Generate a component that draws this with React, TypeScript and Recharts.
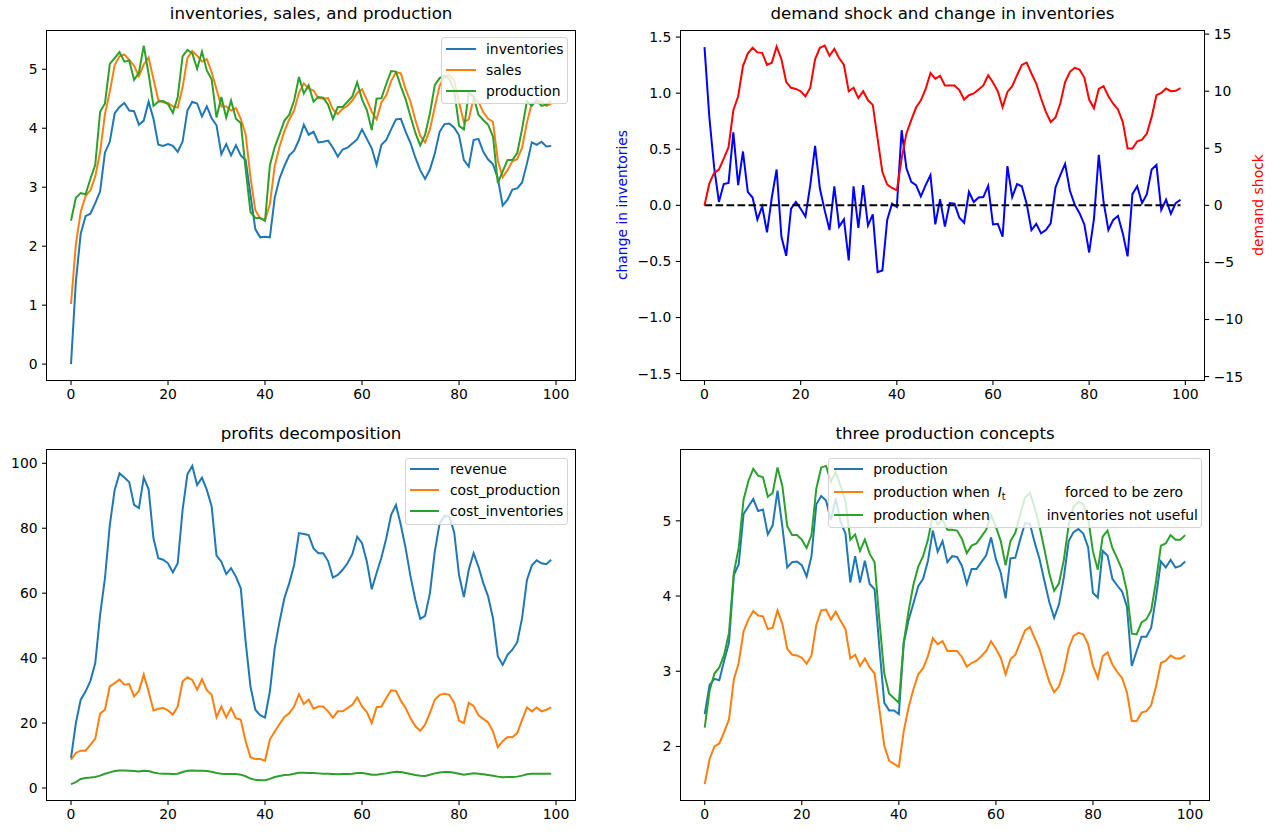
import React from "react";
import { LineChart, Line, XAxis, YAxis, ReferenceLine } from "recharts";

const FONT = "'DejaVu Sans', sans-serif";
const C0 = "#1f77b4";
const C1 = "#ff7f0e";
const C2 = "#2ca02c";

// time index
const steps = [
  0, 1, 2, 3, 4, 5, 6, 7, 8, 9, 10, 11, 12, 13, 14, 15, 16, 17, 18, 19,
  20, 21, 22, 23, 24, 25, 26, 27, 28, 29, 30, 31, 32, 33, 34, 35, 36, 37, 38, 39,
  40, 41, 42, 43, 44, 45, 46, 47, 48, 49, 50, 51, 52, 53, 54, 55, 56, 57, 58, 59,
  60, 61, 62, 63, 64, 65, 66, 67, 68, 69, 70, 71, 72, 73, 74, 75, 76, 77, 78, 79,
  80, 81, 82, 83, 84, 85, 86, 87, 88, 89, 90, 91, 92, 93, 94, 95, 96, 97, 98, 99,
];

const inventories = [
  0.0, 1.4, 2.21, 2.51, 2.55, 2.73, 2.93, 3.59, 3.77, 4.25,
  4.36, 4.43, 4.3, 4.29, 4.06, 4.13, 4.45, 4.16, 3.72, 3.7,
  3.73, 3.7, 3.6, 3.77, 4.3, 4.45, 4.42, 4.2, 4.37, 4.17,
  4.05, 3.56, 3.73, 3.54, 3.71, 3.54, 3.46, 2.87, 2.29, 2.15,
  2.16, 2.15, 2.82, 3.15, 3.36, 3.54, 3.62, 3.8, 4.06, 3.89,
  3.94, 3.76, 3.77, 3.79, 3.67, 3.52, 3.64, 3.67, 3.74, 3.81,
  3.98, 3.82, 3.66, 3.38, 3.72, 3.8, 3.98, 4.15, 4.16, 3.94,
  3.75, 3.5, 3.29, 3.14, 3.3, 3.57, 3.94, 4.07, 4.08, 4.01,
  3.88, 3.46, 3.35, 3.8, 3.82, 3.6, 3.47, 3.39, 3.15, 2.69,
  2.79, 2.96, 2.98, 3.08, 3.4, 3.76, 3.72, 3.77, 3.69, 3.7,
];

const sales = [
  1.02, 2.03, 2.58, 2.85, 2.95, 3.18, 3.6, 4.24, 4.62, 5.07,
  5.22, 5.25, 5.16, 5.06, 4.88, 5.08, 5.2, 4.83, 4.48, 4.44,
  4.43, 4.37, 4.35, 4.69, 5.19, 5.31, 5.23, 5.13, 5.17, 4.95,
  4.66, 4.37, 4.37, 4.3, 4.34, 4.16, 3.9, 3.17, 2.61, 2.47,
  2.44, 2.71, 3.36, 3.69, 3.95, 4.15, 4.3, 4.6, 4.76, 4.67,
  4.64, 4.51, 4.5, 4.51, 4.32, 4.24, 4.33, 4.38, 4.47, 4.6,
  4.66, 4.48, 4.28, 4.15, 4.44, 4.56, 4.8, 4.95, 4.93, 4.66,
  4.45, 4.14, 3.87, 3.76, 3.98, 4.36, 4.72, 4.88, 4.9, 4.82,
  4.44, 4.1, 4.15, 4.51, 4.45, 4.27, 4.16, 4.11, 3.45, 3.17,
  3.29, 3.44, 3.48, 3.67, 4.1, 4.42, 4.43, 4.46, 4.38, 4.41,
];

const production = [
  2.43, 2.82, 2.9, 2.88, 3.14, 3.38, 4.28, 4.42, 5.09, 5.19,
  5.29, 5.13, 5.15, 4.82, 4.94, 5.4, 4.92, 4.38, 4.45, 4.46,
  4.41, 4.26, 4.53, 5.22, 5.33, 5.27, 5.01, 5.3, 4.98, 4.83,
  4.18, 4.53, 4.18, 4.47, 4.16, 4.09, 3.31, 2.58, 2.48, 2.48,
  2.43, 3.37, 3.68, 3.9, 4.13, 4.23, 4.47, 4.87, 4.59, 4.73,
  4.45, 4.53, 4.52, 4.4, 4.16, 4.36, 4.36, 4.45, 4.54, 4.78,
  4.49, 4.31, 3.97, 4.5, 4.51, 4.75, 4.97, 4.96, 4.71, 4.49,
  4.2, 3.92, 3.71, 3.89, 4.25, 4.73, 4.85, 4.89, 4.83, 4.65,
  4.04, 3.98, 4.6, 4.54, 4.23, 4.14, 4.06, 3.86, 3.07, 3.27,
  3.46, 3.46, 3.58, 3.99, 4.46, 4.38, 4.48, 4.38, 4.4, 4.46,
];

const inventoryChange = [
  1.41, 0.79, 0.34, 0.03, 0.19, 0.2, 0.65, 0.18, 0.48, 0.12,
  0.07, -0.125, -0.01, -0.24, 0.07, 0.32, -0.28, -0.45, -0.03, 0.03,
  -0.03, -0.1, 0.18, 0.53, 0.15, -0.045, -0.22, 0.17, -0.19, -0.125,
  -0.49, 0.17, -0.2, 0.18, -0.18, -0.08, -0.595, -0.58, -0.13, 0.015,
  -0.015, 0.67, 0.33, 0.21, 0.18, 0.08, 0.18, 0.27, -0.17, 0.054,
  -0.19, 0.02, 0.015, -0.11, -0.155, 0.12, 0.03, 0.07, 0.074, 0.175,
  -0.17, -0.165, -0.28, 0.35, 0.074, 0.19, 0.17, 0.015, -0.22, -0.165,
  -0.25, -0.22, -0.16, 0.16, 0.27, 0.37, 0.13, 0.006, -0.07, -0.17,
  -0.42, -0.12, 0.45, 0.03, -0.22, -0.13, -0.095, -0.25, -0.455, 0.1,
  0.17, 0.02, 0.1, 0.32, 0.36, -0.04, 0.05, -0.075, 0.02, 0.05,
];

const demandShock = [
  0, 1.9, 2.84, 3.13, 4.1, 5.1, 8.33, 9.56, 12.2, 13.3,
  13.8, 13.4, 13.36, 12.3, 12.5, 13.9, 12.8, 10.8, 10.3, 10.2,
  10.0, 9.56, 10.3, 12.8, 13.8, 14.0, 13.1, 13.7, 12.9, 12.3,
  10.0, 10.3, 9.4, 10.0, 9.2, 8.8, 5.85, 2.92, 1.81, 1.52,
  1.32, 4.1, 6.3, 7.46, 8.57, 9.2, 10.2, 11.6, 11.1, 11.35,
  10.5, 10.5, 10.5, 10.1, 9.27, 9.65, 9.8, 10.15, 10.5, 11.4,
  10.76, 10.0, 8.6, 9.94, 10.44, 11.4, 12.3, 12.5, 11.55, 10.67,
  9.36, 8.19, 7.3, 7.7, 8.92, 10.8, 11.7, 12.05, 11.9, 11.2,
  9.27, 8.5, 10.2, 10.44, 9.56, 8.9, 8.4, 7.3, 4.97, 4.97,
  5.6, 5.76, 6.29, 7.75, 9.65, 9.85, 10.23, 10.0, 10.03, 10.26,
];

const revenue = [
  9.2, 20.0, 27.2, 29.7, 33.0, 38.5, 53.3, 64.6, 81.0, 91.8,
  96.9, 95.6, 94.2, 87.2, 86.2, 95.6, 92.0, 76.9, 70.8, 70.3,
  69.2, 66.4, 69.2, 85.6, 96.6, 99.2, 93.3, 95.6, 91.8, 86.7,
  71.6, 69.7, 65.9, 67.7, 65.1, 61.5, 45.1, 31.3, 24.1, 22.4,
  21.7, 29.7, 43.1, 51.3, 58.5, 63.1, 68.7, 78.5, 78.2, 77.9,
  73.8, 72.3, 72.3, 69.9, 64.8, 65.6, 67.2, 69.2, 72.0, 77.4,
  75.4, 69.7, 61.2, 66.2, 71.0, 76.9, 84.1, 87.2, 81.0, 73.8,
  65.1, 57.9, 52.1, 53.0, 60.0, 72.8, 81.5, 83.8, 83.6, 78.8,
  65.6, 58.8, 67.2, 72.3, 68.2, 63.1, 59.0, 52.3, 40.5, 37.9,
  41.0, 42.6, 44.9, 52.3, 64.1, 68.5, 70.1, 69.2, 68.9, 70.3,
];

const costProduction = [
  8.7, 10.8, 11.5, 11.5, 13.3, 15.2, 22.9, 24.1, 31.3, 32.3,
  33.4, 31.8, 32.0, 28.2, 29.9, 34.9, 29.7, 23.9, 24.4, 24.6,
  23.9, 22.6, 25.1, 32.8, 34.1, 33.3, 30.3, 33.5, 30.1, 28.7,
  21.8, 25.1, 21.7, 24.6, 21.5, 21.0, 14.4, 9.5, 8.9, 8.9,
  8.4, 14.9, 17.4, 19.7, 21.9, 23.0, 25.1, 28.9, 25.9, 27.2,
  24.4, 25.1, 25.1, 23.6, 21.7, 23.6, 23.6, 24.6, 25.6, 27.9,
  25.1, 23.4, 20.0, 24.9, 25.1, 27.7, 30.1, 29.9, 26.9, 24.6,
  21.5, 19.0, 17.6, 19.5, 23.1, 27.2, 28.7, 29.0, 28.7, 26.2,
  20.7, 20.0, 26.2, 25.3, 22.4, 21.3, 20.2, 17.4, 12.6, 14.4,
  15.7, 15.6, 16.9, 21.0, 24.8, 23.6, 24.8, 23.6, 24.1, 24.8,
];

const costInventories = [
  1.2, 1.8, 2.8, 3.1, 3.2, 3.4, 3.8, 4.4, 4.8, 5.2,
  5.4, 5.4, 5.3, 5.2, 5.1, 5.3, 5.2, 4.8, 4.5, 4.4,
  4.4, 4.3, 4.4, 4.9, 5.3, 5.4, 5.3, 5.3, 5.2, 5.0,
  4.6, 4.4, 4.3, 4.3, 4.3, 4.1, 3.6, 2.9, 2.5, 2.4,
  2.4, 2.8, 3.4, 3.7, 4.0, 4.1, 4.4, 4.7, 4.7, 4.6,
  4.6, 4.5, 4.4, 4.4, 4.3, 4.2, 4.3, 4.3, 4.4, 4.6,
  4.6, 4.4, 4.1, 4.1, 4.3, 4.5, 4.8, 5.0, 4.9, 4.6,
  4.3, 4.0, 3.8, 3.7, 4.1, 4.5, 4.8, 4.9, 4.9, 4.7,
  4.4, 4.1, 4.3, 4.5, 4.4, 4.2, 4.0, 3.8, 3.5, 3.3,
  3.4, 3.4, 3.5, 3.8, 4.2, 4.4, 4.4, 4.4, 4.4, 4.4,
];

const productionZeroInv = [
  1.5, 1.83, 2.0, 2.04, 2.19, 2.36, 2.89, 3.11, 3.53, 3.69,
  3.8, 3.74, 3.73, 3.56, 3.58, 3.81, 3.63, 3.3, 3.22, 3.21,
  3.18, 3.1, 3.21, 3.62, 3.81, 3.82, 3.69, 3.79, 3.67, 3.56,
  3.17, 3.22, 3.07, 3.17, 3.05, 2.97, 2.49, 2.01, 1.81, 1.77,
  1.73, 2.2, 2.52, 2.76, 2.96, 3.04, 3.2, 3.44, 3.36, 3.4,
  3.27, 3.27, 3.27, 3.19, 3.06, 3.11, 3.14, 3.2, 3.27, 3.4,
  3.3, 3.18, 2.96, 3.16, 3.22, 3.38, 3.54, 3.59, 3.44, 3.29,
  3.07, 2.86, 2.72, 2.8, 3.0, 3.31, 3.47, 3.51, 3.49, 3.36,
  3.07, 2.91, 3.2, 3.25, 3.09, 2.99, 2.91, 2.72, 2.34, 2.34,
  2.45, 2.47, 2.55, 2.8, 3.11, 3.14, 3.21, 3.17, 3.17, 3.21,
];

const productionNoInvUse = [
  2.25, 2.74, 2.97, 3.05, 3.22, 3.51, 4.31, 4.64, 5.28, 5.53,
  5.69, 5.6, 5.58, 5.32, 5.37, 5.71, 5.46, 4.93, 4.81, 4.81,
  4.75, 4.64, 4.81, 5.43, 5.71, 5.73, 5.52, 5.65, 5.46, 5.26,
  4.75, 4.82, 4.6, 4.75, 4.56, 4.45, 3.67, 2.97, 2.7, 2.64,
  2.58, 3.38, 3.8, 4.15, 4.39, 4.53, 4.75, 5.08, 4.95, 5.02,
  4.88, 4.88, 4.87, 4.76, 4.57, 4.67, 4.7, 4.79, 4.88, 5.08,
  4.92, 4.73, 4.41, 4.73, 4.84, 5.08, 5.31, 5.37, 5.17, 4.92,
  4.62, 4.3, 4.07, 4.17, 4.48, 4.95, 5.19, 5.25, 5.22, 5.04,
  4.59, 4.35, 4.79, 4.87, 4.64, 4.5, 4.35, 4.06, 3.5, 3.49,
  3.65, 3.69, 3.81, 4.2, 4.67, 4.7, 4.81, 4.75, 4.75, 4.81,
];

const xTicks = [0, 20, 40, 60, 80, 100];
const ticksTopLeft = [0, 1, 2, 3, 4, 5];
const ticksChange = [-1.5, -1.0, -0.5, 0, 0.5, 1.0, 1.5];
const ticksShock = [-15, -10, -5, 0, 5, 10, 15];
const ticksProfits = [0, 20, 40, 60, 80, 100];
const ticksConcepts = [2, 3, 4, 5];

const rows = steps.map((t, i) => ({
  t,
  inventories: inventories[i],
  sales: sales[i],
  production: production[i],
  change: inventoryChange[i],
  shock: demandShock[i],
  revenue: revenue[i],
  cost_production: costProduction[i],
  cost_inventories: costInventories[i],
  zeroInv: productionZeroInv[i],
  noInvUse: productionNoInvUse[i],
}));

const X_DOMAIN: [number, number] = [-4.95, 103.95];
const FS = 13.9;
const tickStyle = { fill: "#000", fontSize: FS, fontFamily: FONT };
const LW = 2;
const TICK = 4.9;

const minus = (s: string) => s.replace("-", "\u2212");
const fmt0 = (v: number) => minus(String(v));
const fmt1 = (v: number) => minus(v.toFixed(1));

function xAxis() {
  return (
    <XAxis
      xAxisId="b"
      dataKey="t"
      type="number"
      domain={X_DOMAIN}
      ticks={xTicks}
      interval={0}
      allowDataOverflow
      height={30}
      tickSize={TICK}
      tickMargin={4.5}
      axisLine={false}
      tickLine={{ stroke: "#000", strokeWidth: 1.1 }}
      tick={tickStyle}
    />
  );
}

function leftAxis(
  domain: [number, number],
  ticks: number[],
  width: number,
  fmt: (v: number) => string
) {
  return (
    <YAxis
      yAxisId="l"
      type="number"
      domain={domain}
      ticks={ticks}
      interval={0}
      allowDataOverflow
      width={width}
      tickSize={TICK}
      tickMargin={4.5}
      axisLine={false}
      tickLine={{ stroke: "#000", strokeWidth: 1.1 }}
      tick={tickStyle}
      tickFormatter={fmt}
    />
  );
}

function series(key: string, color: string, yId: string) {
  return (
    <Line
      key={key}
      xAxisId="b"
      yAxisId={yId}
      dataKey={key}
      type="linear"
      stroke={color}
      strokeWidth={LW}
      dot={false}
      activeDot={false}
      isAnimationActive={false}
    />
  );
}

function Frame(props: { left: number; top: number; width: number; height: number }) {
  return (
    <div
      style={{
        position: "absolute",
        left: props.left - 0.55,
        top: props.top - 0.55,
        width: props.width + 1.1,
        height: props.height + 1.1,
        boxSizing: "border-box",
        border: "1.1px solid #000",
        pointerEvents: "none",
      }}
    />
  );
}

type LegendRow = { color: string; y: number; label: React.ReactNode };

function LegendBox(props: {
  left: number;
  top: number;
  width: number;
  height: number;
  sx: number;
  sw: number;
  tx: number;
  rows: LegendRow[];
}) {
  const { left, top, width, height, sx, sw, tx, rows: items } = props;
  return (
    <div
      style={{
        position: "absolute",
        left,
        top,
        width,
        height,
        boxSizing: "border-box",
        background: "rgba(255,255,255,0.8)",
        border: "1px solid #d3d3d3",
        borderRadius: 3,
        fontFamily: FONT,
        fontSize: FS,
        color: "#000",
      }}
    >
      {items.map((r, i) => (
        <React.Fragment key={i}>
          <div
            style={{
              position: "absolute",
              left: sx,
              top: r.y - LW / 2 - 1,
              width: sw,
              height: LW,
              background: r.color,
            }}
          />
          <div
            style={{
              position: "absolute",
              left: tx,
              top: r.y - 10,
              height: 18,
              lineHeight: "18px",
              whiteSpace: "nowrap",
            }}
          >
            {r.label}
          </div>
        </React.Fragment>
      ))}
    </div>
  );
}

const TFS = 16.67;

function Title(props: { cx: number; baseline: number; text: string }) {
  return (
    <div
      style={{
        position: "absolute",
        left: props.cx - 300,
        width: 600,
        top: props.baseline - 0.846 * TFS,
        lineHeight: TFS + "px",
        fontSize: TFS,
        fontFamily: FONT,
        textAlign: "center",
        color: "#000",
        whiteSpace: "nowrap",
      }}
    >
      {props.text}
    </div>
  );
}

function VLabel(props: { cx: number; cy: number; text: string; color: string }) {
  return (
    <div
      style={{
        position: "absolute",
        left: props.cx - 150,
        top: props.cy - 9,
        width: 300,
        height: 18,
        lineHeight: "18px",
        textAlign: "center",
        fontSize: FS,
        fontFamily: FONT,
        color: props.color,
        transform: "rotate(-90deg)",
        whiteSpace: "nowrap",
      }}
    >
      {props.text}
    </div>
  );
}

const TL_Y: [number, number] = [-0.269, 5.654];
const TR_L: [number, number] = [-1.557, 1.557];
const TR_R: [number, number] = [-15.3, 15.3];
const BL_Y: [number, number] = [-3.7, 104.1];
const BR_Y: [number, number] = [1.2885, 5.9415];

export default function App() {
  const first = steps[0];
  const last = steps[steps.length - 1];
  return (
    <div
      style={{
        position: "absolute",
        left: 0,
        top: 0,
        width: 1277,
        height: 834,
        background: "#fff",
        overflow: "hidden",
      }}
    >
      {/* top-left */}
      <div style={{ position: "absolute", left: 0, top: 0 }}>
        <LineChart
          width={600}
          height={410}
          data={rows}
          margin={{ top: 30.7, right: 24.8, bottom: 0, left: 0 }}
        >
          {xAxis()}
          {leftAxis(TL_Y, ticksTopLeft, 47, fmt0)}
          {series("inventories", C0, "l")}
          {series("sales", C1, "l")}
          {series("production", C2, "l")}
        </LineChart>
      </div>

      {/* top-right */}
      <div style={{ position: "absolute", left: 600, top: 0 }}>
        <LineChart
          width={677}
          height={410}
          data={rows}
          margin={{ top: 30.7, right: 0, bottom: 0, left: 0 }}
        >
          {xAxis()}
          {leftAxis(TR_L, ticksChange, 80.7, fmt1)}
          <YAxis
            yAxisId="r"
            orientation="right"
            type="number"
            domain={TR_R}
            ticks={ticksShock}
            interval={0}
            allowDataOverflow
            width={72.7}
            tickSize={TICK}
            tickMargin={4.5}
            axisLine={false}
            tickLine={{ stroke: "#000", strokeWidth: 1.1 }}
            tick={tickStyle}
            tickFormatter={fmt0}
          />
          {series("change", "#0000ff", "l")}
          <ReferenceLine
            xAxisId="b"
            yAxisId="l"
            segment={[
              { x: first, y: 0 },
              { x: last, y: 0 },
            ]}
            stroke="#000"
            strokeWidth={LW}
            strokeDasharray="7.7 3.3"
          />
          {series("shock", "#ff0000", "r")}
        </LineChart>
      </div>

      {/* bottom-left */}
      <div style={{ position: "absolute", left: 0, top: 420 }}>
        <LineChart
          width={600}
          height={410}
          data={rows}
          margin={{ top: 30, right: 24.8, bottom: 0, left: 0 }}
        >
          {xAxis()}
          {leftAxis(BL_Y, ticksProfits, 47, fmt0)}
          {series("revenue", C0, "l")}
          {series("cost_production", C1, "l")}
          {series("cost_inventories", C2, "l")}
        </LineChart>
      </div>

      {/* bottom-right */}
      <div style={{ position: "absolute", left: 600, top: 420 }}>
        <LineChart
          width={677}
          height={410}
          data={rows}
          margin={{ top: 30, right: 67.8, bottom: 0, left: 0 }}
        >
          {xAxis()}
          {leftAxis(BR_Y, ticksConcepts, 80.7, fmt0)}
          {series("production", C0, "l")}
          {series("zeroInv", C1, "l")}
          {series("noInvUse", C2, "l")}
        </LineChart>
      </div>

      <Frame left={47} top={30.7} width={528.2} height={349.3} />
      <Frame left={680.7} top={30.7} width={523.6} height={349.3} />
      <Frame left={47} top={450} width={528.2} height={350} />
      <Frame left={680.7} top={450} width={528.5} height={350} />

      <Title cx={311.1} baseline={20.5} text="inventories, sales, and production" />
      <Title cx={942.4} baseline={20.5} text="demand shock and change in inventories" />
      <Title cx={311.1} baseline={439.8} text="profits decomposition" />
      <Title cx={945} baseline={439.8} text="three production concepts" />

      <VLabel cx={621.7} cy={205.3} text="change in inventories" color="#0000ff" />
      <VLabel cx={1258} cy={205.3} text="demand shock" color="#ff0000" />

      <LegendBox
        left={440.7}
        top={37.3}
        width={127.6}
        height={66.7}
        sx={4.6}
        sw={29.7}
        tx={44.3}
        rows={[
          { color: C0, y: 12, label: "inventories" },
          { color: C1, y: 32.7, label: "sales" },
          { color: C2, y: 53.4, label: "production" },
        ]}
      />
      <LegendBox
        left={405.3}
        top={457.7}
        width={163}
        height={67.3}
        sx={4}
        sw={29}
        tx={43.7}
        rows={[
          { color: C0, y: 11.3, label: "revenue" },
          { color: C1, y: 32.3, label: "cost_production" },
          { color: C2, y: 53.3, label: "cost_inventories" },
        ]}
      />
      <LegendBox
        left={828.3}
        top={457.7}
        width={373.4}
        height={70}
        sx={4.4}
        sw={29}
        tx={44}
        rows={[
          { color: C0, y: 11.3, label: "production" },
          {
            color: C1,
            y: 34,
            label: (
              <>
                <span>production when</span>
                <span style={{ position: "absolute", left: 124.4 }}>
                  <span style={{ fontStyle: "italic" }}>I</span>
                  <span style={{ fontSize: 9.7, position: "relative", top: 3 }}>t</span>
                </span>
                <span style={{ position: "absolute", left: 191.7 }}>forced to be zero</span>
              </>
            ),
          },
          {
            color: C2,
            y: 57.3,
            label: (
              <>
                <span>production when</span>
                <span style={{ position: "absolute", left: 173.4 }}>inventories not useful</span>
              </>
            ),
          },
        ]}
      />
    </div>
  );
}
